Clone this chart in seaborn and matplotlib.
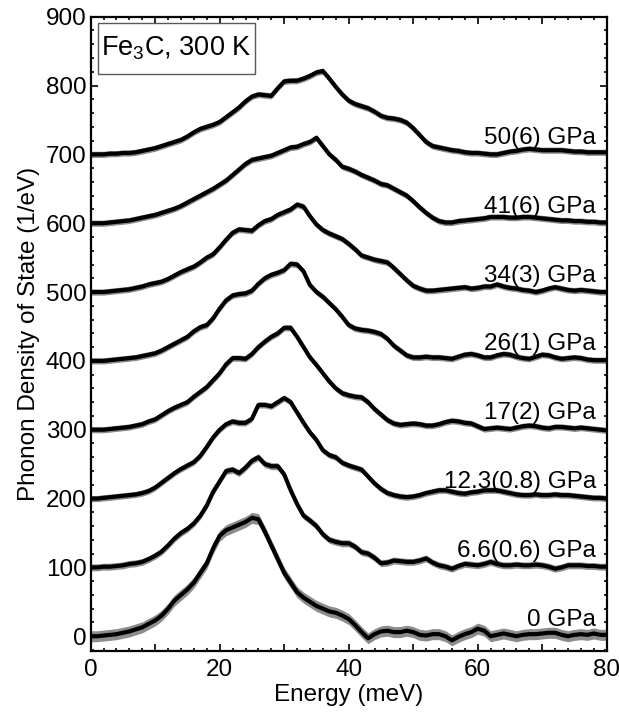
import numpy as np
import pandas as pd
import matplotlib
matplotlib.use("Agg")
import matplotlib.pyplot as plt
from matplotlib.patches import Rectangle
from matplotlib.ticker import MultipleLocator, FuncFormatter
import seaborn as sns

# ---------------- data ----------------
energy = list(range(0, 81))  # meV

labels = ["0 GPa", "6.6(0.6) GPa", "12.3(0.8) GPa", "17(2) GPa",
          "26(1) GPa", "34(3) GPa", "41(6) GPa", "50(6) GPa"]
offsets = [0, 100, 200, 300, 400, 500, 600, 700]
errors = [8, 5, 4.5, 4.5, 4.5, 4.5, 4.5, 4.5]

dos_0 = [0, 0, 1, 2, 3, 5, 7, 10, 13, 18, 23, 30, 40, 52, 60, 68, 78, 92, 106, 128,
         146, 154, 158, 162, 166, 172, 170, 152, 132, 112, 92, 78, 64, 56, 50, 44, 40, 36, 34, 30,
         25, 16, 6, -3, 3, 7, 8, 6, 6, 8, 6, 2, 1, 3, 3, 0, -6, -1, 3, 6,
         11, 8, 0, 2, 4, 2, 0, 2, 3, 3, 4, 5, 5, 2, 0, 2, 3, 2, 4, 2, 2]
dos_6p6 = [0, 0, 1, 1, 2, 3, 5, 6, 8, 12, 17, 23, 32, 42, 50, 56, 64, 75, 90, 110,
           125, 140, 142, 137, 145, 155, 160, 150, 147, 147, 135, 112, 92, 75, 68, 60, 48, 40, 37, 35,
           35, 30, 22, 20, 14, 6, 7, 10, 9, 8, 8, 10, 13, 7, 3, 1, -2, 2, 5, 4,
           3, 5, 8, 5, 3, 3, 4, 3, 3, 4, 3, 1, -2, 0, 3, 3, 3, 2, 2, 1, 1]
dos_12p3 = [0, 0, 1, 2, 3, 4, 5, 6, 8, 11, 16, 23, 30, 37, 43, 48, 53, 62, 75, 89,
            100, 108, 112, 110, 110, 116, 136, 136, 134, 140, 146, 140, 125, 110, 96, 85, 70, 63, 60, 52,
            48, 45, 42, 32, 22, 14, 8, 5, 3, 2, 3, 5, 8, 10, 12, 12, 10, 8, 7, 9,
            10, 12, 12, 12, 10, 8, 6, 5, 5, 6, 5, 5, 6, 5, 5, 4, 3, 2, 1, 1, 0]
dos_17 = [0, 0, 0, 1, 2, 3, 4, 6, 8, 12, 15, 21, 27, 32, 36, 40, 48, 55, 62, 72,
          82, 95, 104, 104, 103, 110, 120, 128, 135, 140, 148, 148, 135, 120, 105, 94, 82, 70, 60, 53,
          50, 48, 47, 40, 30, 22, 14, 9, 7, 8, 9, 8, 6, 6, 8, 11, 13, 12, 10, 9,
          5, 1, 2, 3, 2, 1, 3, 5, 6, 5, 3, 2, 4, 4, 3, 2, 3, 2, 1, 0, -1]
dos_26 = [0, 0, 0, 1, 2, 3, 4, 5, 7, 9, 11, 15, 20, 25, 30, 35, 43, 49, 52, 62,
          76, 88, 95, 97, 98, 102, 112, 120, 125, 128, 132, 141, 140, 130, 110, 100, 93, 84, 75, 64,
          52, 47, 45, 44, 42, 39, 32, 22, 15, 8, 5, 5, 6, 5, 5, 4, 3, 6, 9, 10,
          8, 5, 5, 8, 10, 9, 6, 4, 3, 6, 9, 8, 5, 3, 4, 5, 4, 2, 1, 1, 1]
dos_34 = [0, 0, 0, 1, 2, 3, 4, 6, 8, 11, 13, 15, 19, 24, 29, 33, 37, 43, 50, 55,
          65, 76, 86, 91, 90, 89, 97, 103, 106, 112, 116, 120, 127, 124, 110, 98, 90, 85, 81, 77,
          70, 62, 53, 50, 47, 45, 43, 35, 26, 17, 9, 5, 2, 2, 3, 4, 5, 6, 7, 5,
          6, 8, 8, 11, 8, 6, 5, 3, 2, 0, 2, 5, 7, 5, 3, 2, 3, 2, 1, 0, 0]
dos_41 = [0, 0, 0, 1, 2, 3, 4, 6, 8, 10, 12, 15, 18, 21, 25, 30, 35, 40, 45, 50,
          56, 62, 70, 78, 86, 92, 94, 96, 98, 102, 106, 110, 111, 115, 118, 124, 112, 100, 92, 82,
          79, 75, 70, 66, 62, 57, 55, 50, 45, 40, 32, 23, 15, 8, 3, 1, 1, 3, 4, 5,
          6, 7, 9, 9, 9, 8, 8, 9, 9, 8, 7, 6, 5, 4, 4, 3, 3, 2, 2, 1, 1]
dos_50 = [0, 0, 0, 1, 1, 2, 2, 3, 5, 7, 9, 12, 15, 18, 21, 26, 32, 37, 40, 43,
          47, 54, 61, 68, 77, 84, 87, 86, 85, 96, 106, 107, 107, 110, 114, 119, 121, 110, 98, 87,
          78, 73, 70, 67, 62, 56, 53, 52, 50, 46, 38, 28, 18, 12, 10, 8, 6, 5, 3, 2,
          2, 1, 0, 0, 2, 4, 5, 7, 8, 7, 6, 6, 6, 6, 5, 4, 4, 3, 3, 3, 3]

series = [dos_0, dos_6p6, dos_12p3, dos_17, dos_26, dos_34, dos_41, dos_50]

rows = []
for lab, off, err, vals in zip(labels, offsets, errors, series):
    for e, v in zip(energy, vals):
        rows.append({"Energy": e, "DOS": v + off, "lo": v + off - err,
                     "hi": v + off + err, "Pressure": lab})
df = pd.DataFrame(rows)

# ---------------- style ----------------
sns.set_style("ticks")
plt.rcParams["font.family"] = ["Liberation Sans", "DejaVu Sans"]
plt.rcParams["mathtext.fontset"] = "custom"
plt.rcParams["mathtext.rm"] = "Liberation Sans"
plt.rcParams["mathtext.it"] = "Liberation Sans"
plt.rcParams["text.color"] = "black"
plt.rcParams["axes.labelcolor"] = "black"
FS = 17.5

fig = plt.figure(figsize=(6.19, 7.13), dpi=100)
ax = fig.add_axes([0.1465, 0.0874, 0.8337, 0.8892])

# error bands
for lab in labels:
    sub = df[df["Pressure"] == lab]
    ax.fill_between(sub["Energy"], sub["lo"], sub["hi"], color="0.55",
                    linewidth=0, zorder=1)

sns.lineplot(data=df, x="Energy", y="DOS", hue="Pressure",
             palette=["black"] * len(labels), linewidth=3.0, legend=False,
             ax=ax, zorder=2, estimator=None,
             solid_joinstyle="round", solid_capstyle="round")

for lab, off in zip(labels, offsets):
    ax.text(78.3, off + 24, lab, ha="right", va="center", fontsize=FS,
            color="black", zorder=3)

ax.set_xlim(0, 80)
ax.set_ylim(-21, 900)
ax.set_xlabel("Energy (meV)", fontsize=FS, labelpad=2, color="black")
ax.set_ylabel("Phonon Density of State (1/eV)", fontsize=FS, labelpad=4,
              color="black")

ax.xaxis.set_major_locator(MultipleLocator(10))
ax.xaxis.set_minor_locator(MultipleLocator(2))
ax.xaxis.set_major_formatter(FuncFormatter(lambda v, p: f"{int(v)}" if int(round(v)) % 20 == 0 else ""))
ax.yaxis.set_major_locator(MultipleLocator(100))
ax.yaxis.set_minor_locator(MultipleLocator(20))

ax.tick_params(which="both", direction="in", top=True, right=True,
               width=1.2, labelsize=FS, colors="black")
ax.tick_params(which="major", length=5)
ax.tick_params(which="minor", length=2.5)
ax.tick_params(axis="x", which="major", pad=6)
ax.tick_params(axis="y", which="major", pad=3)
for s in ax.spines.values():
    s.set_linewidth(1.6)
    s.set_color("black")

# inset label box
ax.add_patch(Rectangle((0.0136, 0.9096), 0.304, 0.080, transform=ax.transAxes,
                       facecolor="white", edgecolor="0.35", linewidth=1.0, zorder=4))
ax.text(0.166, 0.950, r"Fe$_3$C, 300 K", transform=ax.transAxes, ha="center",
        va="center", fontsize=19.5, color="black", zorder=5)

fig.savefig("out.png", dpi=100)
